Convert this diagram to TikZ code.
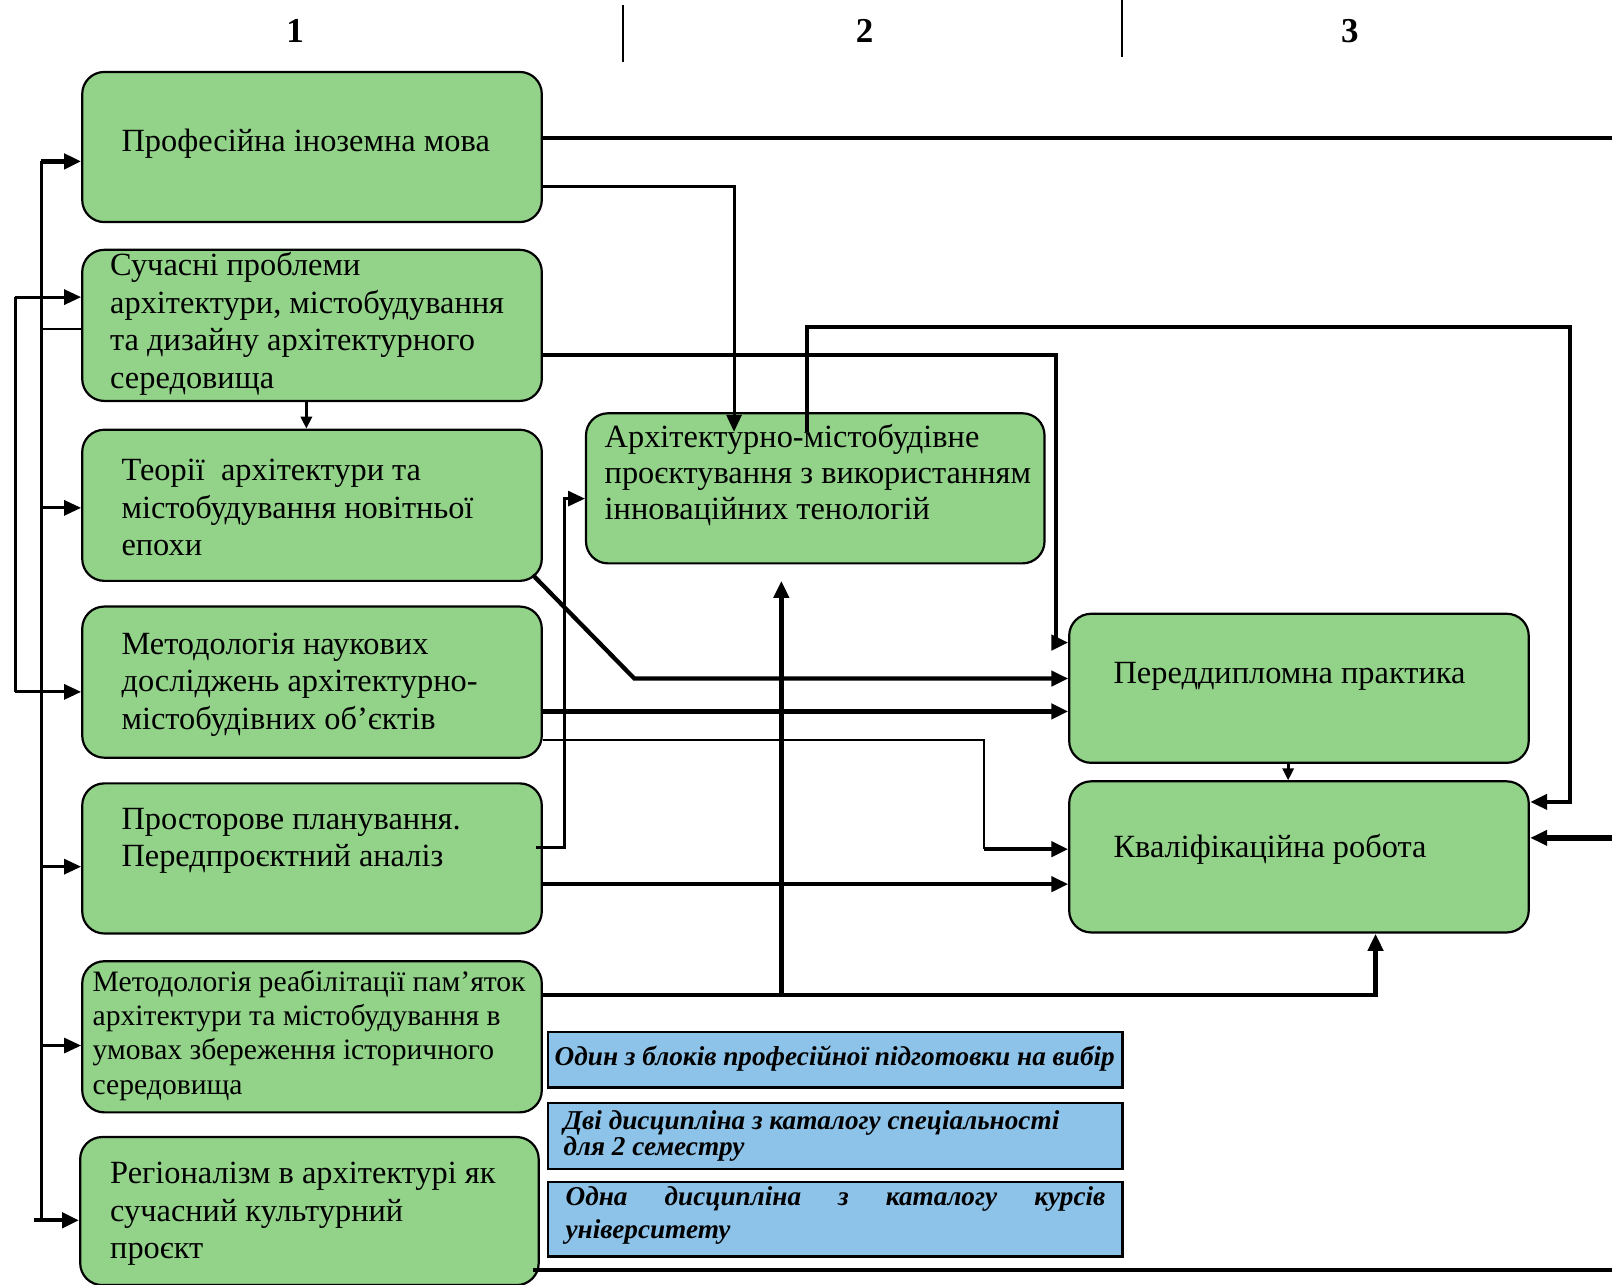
\documentclass[tikz,border=0pt]{standalone}
\usepackage{fontspec}
\setmainfont{Liberation Serif}
\usetikzlibrary{arrows.meta,calc}
\definecolor{gfill}{RGB}{147,211,137}
\definecolor{bfill}{RGB}{141,195,233}
\begin{document}
\begin{tikzpicture}[x=1pt,y=-1pt,scale=1.02806,every node/.append style={transform shape},
 gbox/.style={draw=black, line width=2.2pt, fill=gfill, rounded corners=22pt, minimum width=447pt, minimum height=146pt, inner sep=0pt},
 bbox/.style={draw=black, line width=2.4pt, fill=bfill, minimum width=559pt, inner sep=0pt},
 txt/.style={font=\fontsize{31.5}{36.5}\selectfont, align=left, inner sep=0pt, anchor=west},
 btxt/.style={font=\fontsize{26.5}{23}\selectfont\bfseries\itshape, align=left, inner sep=0pt},
 hdr/.style={font=\fontsize{34}{34}\selectfont\bfseries},
 ln/.style={line width=3pt},
 lthin/.style={line width=2pt},
 thk/.style={line width=4.3pt},
 vthk/.style={line width=5.5pt},
 arr/.style={-{Triangle[length=17pt,width=15pt]}},
 sarr/.style={-{Triangle[length=12pt,width=11pt]}},
]
\fill[white] (0,0) rectangle (1568,1249);
\useasboundingbox (0,0) rectangle (1568,1249);

% headers
\node[hdr] (h1) at (287,30) {1};
\node[hdr] (h2) at (841,30) {2};
\node[hdr] (h3) at (1313,30) {3};
\draw[lthin] (606,5) -- (606,60);
\draw[lthin] (1091,0) -- (1091,55);

% green boxes
\node[gbox] (b1) at (303.5,143) {};
\node[gbox, minimum height=147pt] (b2) at (303.5,316.5) {};
\node[gbox, minimum height=147pt] (b3) at (303.5,491.5) {};
\node[gbox, minimum height=147pt] (b4) at (303.5,663.5) {};
\node[gbox] (b5) at (303.5,835) {};
\node[gbox, minimum height=147pt] (b6) at (303.5,1008.5) {};
\node[gbox, minimum width=446pt, minimum height=144pt] (b7) at (301,1178) {};
\node[gbox, minimum width=446pt] (m) at (793,475) {};
\node[gbox, minimum height=145pt] (p) at (1263.5,669.5) {};
\node[gbox, minimum height=147pt] (k) at (1263.5,833.5) {};

% texts
\node[txt] (t1) at (118,140) {Професійна іноземна мова};
\node[txt] (t2) at (107,315) {Сучасні проблеми\\архітектури, містобудування\\та дизайну архітектурного\\середовища};
\node[txt] (t3) at (118,494) {Теорії\ \ архітектури та\\містобудування новітньої\\епохи};
\node[txt] (t4) at (118,666) {Методологія наукових\\досліджень архітектурно-\\містобудівних об'єктів};
\node[txt] (t5) at (118,818) {Просторове планування.\\Передпроєктний аналіз};
\node[txt, font=\fontsize{28.8}{33.3}\selectfont] (t6) at (90,1007) {Методологія реабілітації пам'яток\\архітектури та містобудування в\\умовах збереження історичного\\середовища};
\node[txt] (t7) at (107,1181) {Регіоналізм в архітектурі як\\сучасний культурний\\проєкт};
\node[txt, font=\fontsize{31.5}{35}\selectfont] (tm) at (588,462) {Архітектурно-містобудівне\\проєктування з використанням\\інноваційних тенологій};
\node[txt] (tp) at (1083,658) {Переддипломна практика};
\node[txt] (tk) at (1083,826) {Кваліфікаційна робота};

% blue boxes
\node[bbox, minimum height=54pt] (u1) at (812.5,1031) {};
\node[btxt] (tu1) at (812,1030) {Один з блоків професійної підготовки на вибір};
\node[bbox, minimum height=64pt] (u2) at (812.5,1105) {};
\node[btxt, anchor=west] (tu2) at (548,1105) {Дві дисципліна з каталогу спеціальності\\для 2 семестру};
\node[bbox, minimum height=72pt] (u3) at (812.5,1186) {};
\node[btxt, anchor=west, text width=525pt, font=\fontsize{26.5}{32}\selectfont\bfseries\itshape] (tu3) at (550,1182) {Одна\hfill дисципліна\hfill з\hfill каталогу\hfill курсів\\університету};

% left bus
\draw[ln] (40,157) -- (40,1187);
\draw[ln] (15,289) -- (15,673);
\draw[thk,arr] (40,157) -- (b1.west |- 0,157);
\draw[ln,arr] (15,289) -- (b2.west |- 0,289);
\draw[lthin] (40,320) -- (b2.west |- 0,320);
\draw[ln,arr] (42,494) -- (b3.west |- 0,494);
\draw[ln,arr] (15,673) -- (b4.west |- 0,673);
\draw[ln,arr] (40,843) -- (b5.west |- 0,843);
\draw[ln,arr] (40,1017) -- (b6.west |- 0,1017);
\draw[thk,arr] (33,1187) -- (b7.west |- 0,1187);

% right-side connectors
\draw[thk] (b1.east |- 0,134) -- (1568,134);
\draw[ln,arr] (b1.east |- 0,181) -- (714,181) -- (714,420);
\draw[thk,arr] (785,420) -- (785,318) -- (1527,318) -- (1527,780) -- (k.east |- 0,780);
\draw[thk,arr] (b2.east |- 0,345) -- (1027,345) -- (1027,625) -- (p.west |- 0,625);
\draw[ln,sarr] (b2.south -| 298,0) -- (b3.north -| 298,0);
\draw[thk,arr] ([shift={(-10,-7)}]b3.south east) -- (617,660) -- (p.west |- 0,660);
\draw[vthk,arr] (b4.east |- 0,692) -- (p.west |- 0,692);
\draw[lthin] (b4.east |- 0,720) -- (957,720) -- (957,826);
\draw[thk,arr] (957,826) -- (k.west |- 0,826);
\draw[ln,arr] (521,824) -- (549,824) -- (549,485) -- (m.west |- 0,485);
\draw[thk,arr] (b5.east |- 0,860) -- (k.west |- 0,860);
\draw[thk,arr] (b6.east |- 0,968) -- (1338,968) -- (k.south -| 1338,0);
\draw[vthk,arr] (760,968) -- (760,565);
\draw[ln,sarr] (p.south -| 1253,0) -- (k.north -| 1253,0);
\draw[vthk,arr] (1568,815) -- (k.east |- 0,815);
\draw[thk] (518,1235) -- (1568,1235);
\end{tikzpicture}
\end{document}
